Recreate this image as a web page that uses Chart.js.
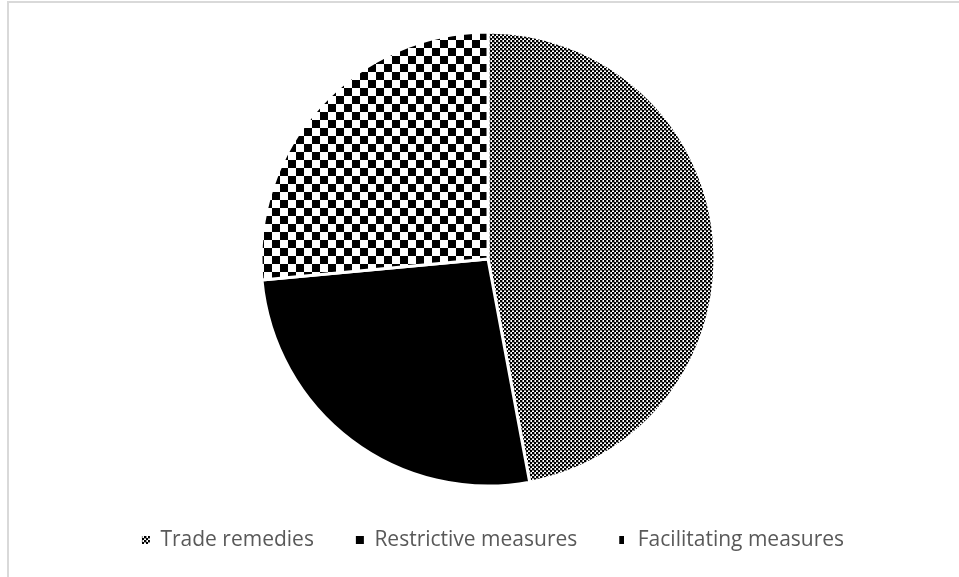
<!DOCTYPE html>
<html>
<head>
<meta charset="utf-8">
<script src="https://cdn.jsdelivr.net/npm/chart.js@4.4.1/dist/chart.umd.min.js"></script>
<style>
  body { margin: 0; background: #fff; }
  #wrap { position: relative; width: 959px; height: 577px; }
  #frame {
    position: absolute; left: 7px; top: 1px; width: 950px; height: 574px;
    border-style: solid; border-color: #d9d9d9;
    border-width: 2px 1px 1px 2px; pointer-events: none;
  }
</style>
</head>
<body>
<div id="wrap">
  <canvas id="pieChart" width="959" height="577"></canvas>
  <div id="frame"></div>
</div>
<script>
Chart.defaults.font.family = "'Open Sans', sans-serif"
Chart.defaults.font.size = 21
Chart.defaults.color = "#595959"

var categories = ["Trade remedies", "Restrictive measures", "Facilitating measures"]
var shares = [16, 9, 9]

// fill patterns like the office chart ones
function makePattern(size, draw){
    const c = document.createElement("canvas")
    c.width = size
    c.height = size
    const g = c.getContext("2d")
    g.fillStyle = "#ffffff"
    g.fillRect(0, 0, size, size)
    g.fillStyle = "#000000"
    draw(g)
    return c.getContext("2d").createPattern(c, "repeat")
}

var smallChecker = makePattern(4, g => {
    g.fillRect(0, 0, 2, 2)
    g.fillRect(2, 2, 2, 2)
    g.fillStyle = "#9a9a9a"
    g.fillRect(2, 0, 1, 2)
    g.fillRect(0, 2, 2, 1)
})
var largeChecker = makePattern(16, g => {
    g.fillRect(0, 0, 8, 8)
    g.fillRect(8, 8, 8, 8)
})
var sliceFills = [smallChecker, "#000000", largeChecker]

// the pie sits a little left of the legend centre
const shiftPie = {
    id: "shiftPie",
    afterLayout(chart){
        chart.chartArea.left -= 5
        chart.chartArea.right -= 5
    }
}

new Chart(document.getElementById("pieChart"), {
    type: "pie",
    data: {
        labels: categories,
        datasets: [{
            data: shares,
            backgroundColor: sliceFills,
            borderColor: "#ffffff",
            borderWidth: 3,
            radius: 227
        }]
    },
    options: {
        responsive: false,
        animation: false,
        layout: {
            padding: {left: 27, right: 0, top: 30.5, bottom: 16.5}
        },
        plugins: {
            tooltip: {enabled: false},
            legend: {
                position: "bottom",
                labels: {
                    boxWidth: 8,
                    boxHeight: 8,
                    padding: 42,
                    generateLabels: (chart) => {
                        const items = Chart.overrides.pie.plugins.legend.labels.generateLabels(chart)
                        items.forEach(it => { it.lineWidth = 0 })
                        return items
                    }
                }
            }
        }
    },
    plugins: [shiftPie]
})
</script>
</body>
</html>
